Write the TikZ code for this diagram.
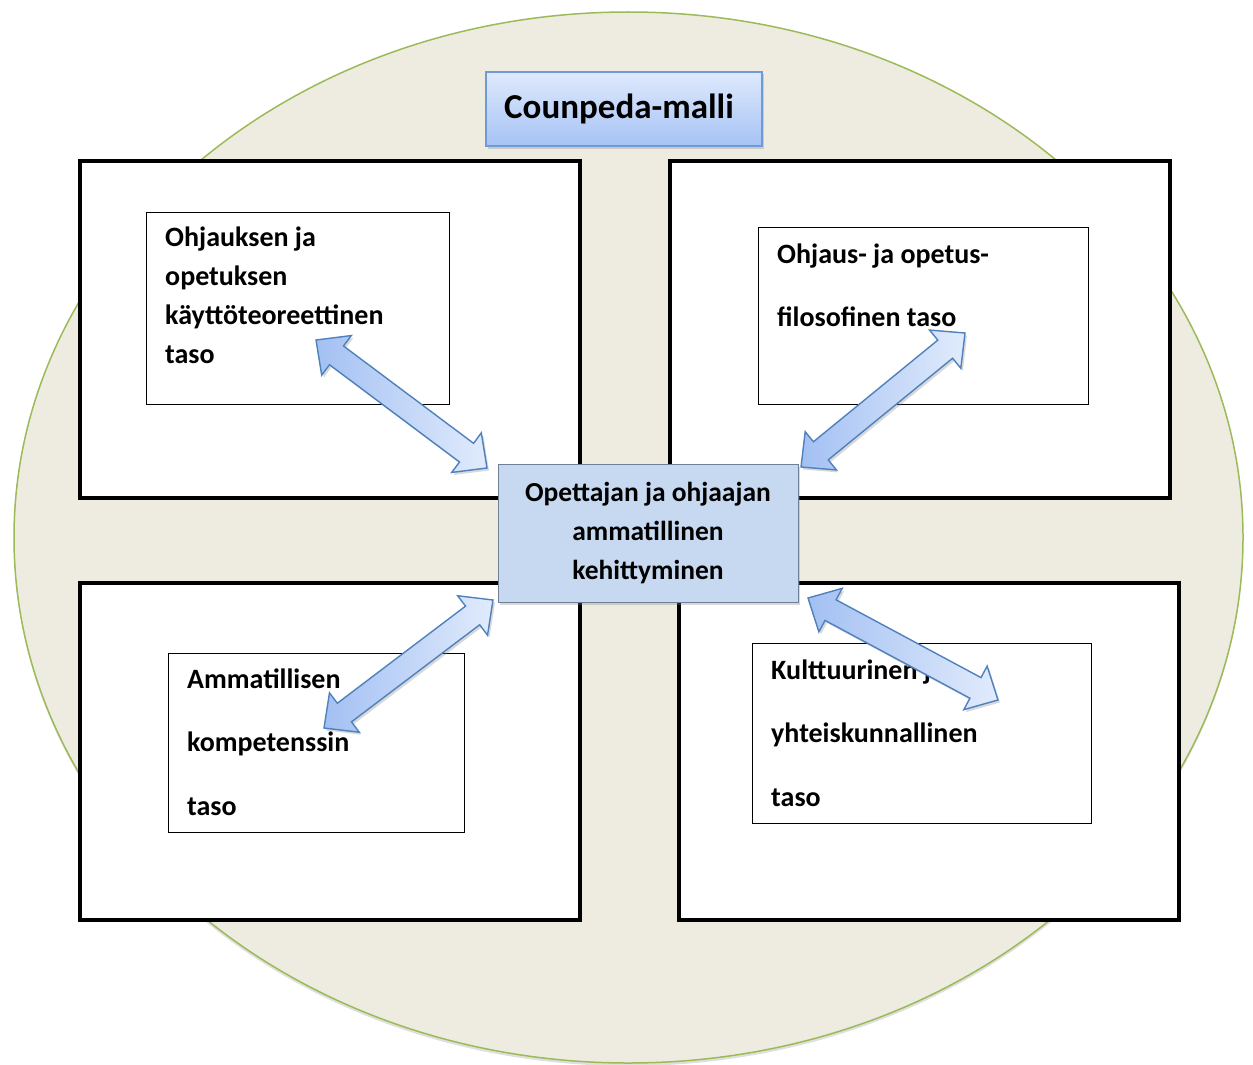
\documentclass[tikz,border=0pt]{standalone}
\usepackage{fontspec}
\setmainfont{Carlito}
\usetikzlibrary{shapes.arrows, shadows, calc}

\definecolor{paper}{HTML}{EEECE1}
\definecolor{rim}{HTML}{9BBB59}
\definecolor{hubfill}{HTML}{C6D9F1}
\definecolor{hubedge}{HTML}{6F7F95}
\definecolor{arrowdark}{HTML}{A3C0F3}
\definecolor{arrowlight}{HTML}{E1EBFC}
\definecolor{arrowedge}{HTML}{4F81BD}
\definecolor{titletop}{HTML}{DFE9FD}
\definecolor{titlebottom}{HTML}{A6C3F5}
\definecolor{titleedge}{HTML}{6E9BD8}

\tikzset{
  levelbox/.style = {draw, line width=3.5pt, fill=white},
  textbox/.style = {draw, line width=0.8pt, fill=white},
  % anchored at the baseline of the last line
  leveltext/.style = {font=\bfseries\fontsize{28}{#1}\selectfont, align=left,
                      anchor=base west, inner sep=0pt},
  softshadow/.style = {drop shadow={opacity=0.3, shadow xshift=2pt, shadow yshift=-2.5pt}},
  twoway/.style = {double arrow, draw=arrowedge, line width=1.4pt,
                   left color=arrowdark, right color=arrowlight,
                   inner xsep=0pt, inner ysep=11pt,
                   double arrow head extend=13pt, double arrow tip angle=88,
                   sloped, allow upside down, softshadow}
}

\begin{document}
\begin{tikzpicture}[x=1pt, y=-1pt]
\useasboundingbox (0,0) rectangle (1253,1065);

% background
\draw[rim, fill=paper, line width=1.5pt,
      drop shadow={opacity=0.25, shadow xshift=0pt, shadow yshift=-3pt}]
  (628.5,537.5) ellipse [x radius=614.5, y radius=525.5];

% four levels
\draw[levelbox] (80,161) rectangle (580,498);
\draw[levelbox] (670,161) rectangle (1170,498);
\draw[levelbox] (80,583) rectangle (580,920);
\draw[levelbox] (679,583) rectangle (1179,920);

\draw[textbox] (146,212) rectangle (449,404);
\draw[textbox] (758,227) rectangle (1088,404);
\draw[textbox] (168,653) rectangle (464,832);
\draw[textbox] (752,643) rectangle (1091,823);

\node[leveltext=39] (praxis) at (165,363)
  {Ohjauksen ja\\opetuksen\\käyttöteoreettinen\\taso};
\node[leveltext=63] (philo) at (777,326)
  {Ohjaus- ja opetus-\\filosofinen taso};
\node[leveltext=63.5] (compet) at (187,815)
  {Ammatillisen\\kompetenssin\\taso};
\node[leveltext=63.5] (culture) at (771,806)
  {Kulttuurinen ja\\yhteiskunnallinen\\taso};

% centre and title
\node[draw=hubedge, line width=1pt, fill=hubfill, softshadow,
      minimum width=300pt, minimum height=138pt, align=center,
      font=\bfseries\fontsize{27.5}{39}\selectfont] (hub) at (648,533)
  {Opettajan ja ohjaajan\\ammatillinen\\kehittyminen};

\node[draw=titleedge, line width=1.5pt, top color=titletop, bottom color=titlebottom,
      softshadow, minimum width=276pt, minimum height=74pt,
      font=\bfseries\fontsize{35}{42}\selectfont] (title) at (624,109)
  {\hspace*{-10pt}Counpeda-malli};

% arrow ends: dark end first
\coordinate (d1) at (316,340);  \coordinate (l1) at (487,468);
\coordinate (d2) at (801,467);  \coordinate (l2) at (965,333);
\coordinate (d3) at (493,600);  \coordinate (l3) at (324,728);
\coordinate (d4) at (808,598);  \coordinate (l4) at (998,700);

\foreach \i in {1,...,4}
  \path let \p1 = ($(l\i)-(d\i)$), \n1 = {veclen(\x1,\y1)} in
    (d\i) -- node[twoway, minimum height=\n1] (link\i) {} (l\i);
\end{tikzpicture}
\end{document}
